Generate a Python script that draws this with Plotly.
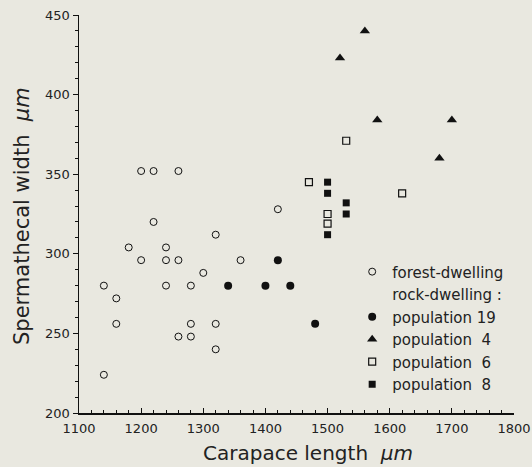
import plotly.graph_objects as go

# Data (carapace length, spermathecal width in µm)
forest_x = [1200, 1220, 1260, 1220, 1180, 1240, 1200, 1240, 1260, 1300, 1140, 1240,
            1280, 1160, 1160, 1280, 1260, 1280, 1140, 1420, 1320, 1360, 1320, 1320]
forest_y = [352, 352, 352, 320, 304, 304, 296, 296, 296, 288, 280, 280,
            280, 272, 256, 256, 248, 248, 224, 328, 312, 296, 256, 240]

pop19_x = [1340, 1400, 1420, 1440, 1480]
pop19_y = [280, 280, 296, 280, 256]

pop4_x = [1520, 1560, 1580, 1700, 1680]
pop4_y = [423, 440, 384, 384, 360]

pop6_x = [1470, 1500, 1500, 1530, 1620]
pop6_y = [345, 325, 319, 371, 338]

pop8_x = [1500, 1500, 1530, 1530, 1500]
pop8_y = [345, 338, 332, 325, 312]

x_ticks = [1100, 1200, 1300, 1400, 1500, 1600, 1700, 1800]
y_ticks = [200, 250, 300, 350, 400, 450]

BG = "#e9e8e0"
FONT = "DejaVu Sans"

fig = go.Figure()

fig.add_trace(go.Scatter(
    x=forest_x, y=forest_y, mode="markers", name="forest-dwelling",
    marker=dict(symbol="circle-open", size=7, color="#111", line=dict(width=1, color="#111")),
))
fig.add_trace(go.Scatter(
    x=[None], y=[None], mode="markers", name="rock-dwelling :",
    marker=dict(symbol="circle", size=1, color="rgba(0,0,0,0)", line=dict(width=0)),
))
fig.add_trace(go.Scatter(
    x=pop19_x, y=pop19_y, mode="markers", name="population 19",
    marker=dict(symbol="circle", size=8, color="#111"),
))
fig.add_trace(go.Scatter(
    x=pop4_x, y=pop4_y, mode="markers", name="population  4",
    marker=dict(symbol="triangle-up", size=9, color="#111"),
))
fig.add_trace(go.Scatter(
    x=pop6_x, y=pop6_y, mode="markers", name="population  6",
    marker=dict(symbol="square-open", size=7, color="#111", line=dict(width=1.2, color="#111")),
))
fig.add_trace(go.Scatter(
    x=pop8_x, y=pop8_y, mode="markers", name="population  8",
    marker=dict(symbol="square", size=7, color="#111"),
))

fig.update_layout(
    width=532, height=467,
    margin=dict(l=79, r=18, t=15, b=54, autoexpand=False),
    paper_bgcolor=BG, plot_bgcolor=BG,
    font=dict(family=FONT, size=13, color="#222"),
    showlegend=True,
    legend=dict(
        x=0.628, y=0.396, xanchor="left", yanchor="top",
        bgcolor="rgba(0,0,0,0)", font=dict(family=FONT, size=15, color="#222"),
        itemclick=False, tracegroupgap=0,
    ),
    xaxis=dict(
        range=[1100, 1800], tickvals=x_ticks, ticktext=[str(v) for v in x_ticks],
        showgrid=False, zeroline=False, showline=True, linecolor="#111", linewidth=1.5,
        ticks="inside", ticklen=5, tickwidth=1, tickcolor="#111", automargin=False,
        minor=dict(dtick=20, ticks="inside", ticklen=3, tickcolor="#111", showgrid=False),
        tickfont=dict(family=FONT, size=13, color="#222"), ticklabelstandoff=3,
    ),
    yaxis=dict(
        range=[200, 450], tickvals=y_ticks, ticktext=[str(v) for v in y_ticks],
        showgrid=False, zeroline=False, showline=True, linecolor="#111", linewidth=1.5,
        ticks="outside", ticklen=5, tickwidth=1, tickcolor="#111", automargin=False,
        minor=dict(dtick=10, ticks="outside", ticklen=3, tickcolor="#111", showgrid=False),
        tickfont=dict(family=FONT, size=13, color="#222"),
    ),
    annotations=[
        dict(text="Carapace length  <i>μm</i>", xref="paper", yref="paper",
             x=0.526, y=-0.1005, xanchor="center", yanchor="middle", showarrow=False,
             font=dict(family=FONT, size=20, color="#222")),
        dict(text="Spermathecal width  <i>μm</i>", xref="paper", yref="paper",
             x=-0.131, y=0.495, xanchor="center", yanchor="middle", showarrow=False,
             textangle=-90, font=dict(family=FONT, size=21, color="#222")),
    ],
)

fig.write_html(
    "out.html",
    config={"displayModeBar": False, "staticPlot": True},
    post_script="document.body.style.margin='0';document.body.style.overflow='hidden';"
                "document.body.style.background='" + BG + "';",
)
